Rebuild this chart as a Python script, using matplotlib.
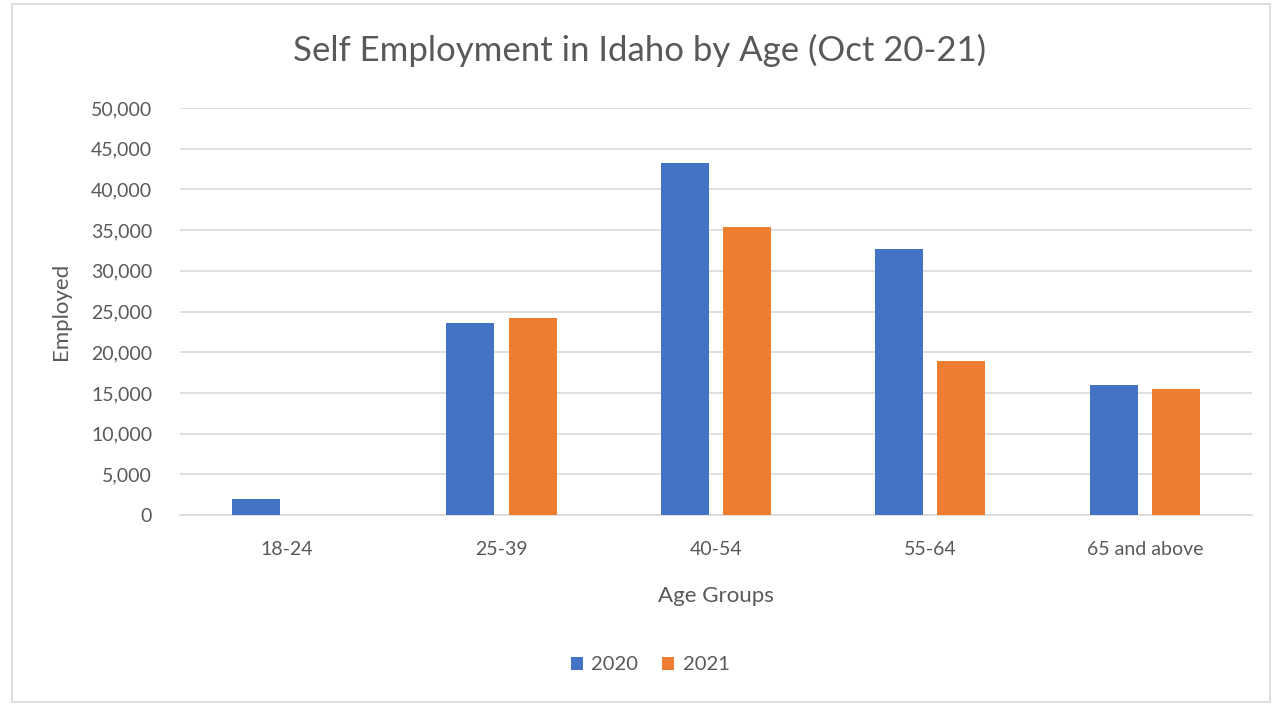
import matplotlib.pyplot as plt
import numpy as np
from matplotlib.patches import Rectangle
from matplotlib.ticker import FuncFormatter

# Data
age_groups = ["18-24", "25-39", "40-54", "55-64", "65 and above"]
employed_2020 = [2000, 23600, 43300, 32700, 16000]
employed_2021 = [0, 24200, 35400, 18900, 15500]

blue = "#4472C4"
orange = "#ED7D31"
text_grey = "#595959"

plt.rcParams["font.family"] = ["Lato", "DejaVu Sans"]

fig = plt.figure(figsize=(12.8, 7.05), dpi=100)
ax = fig.add_axes([0.1406, 0.2695, 0.8375, 0.5773])

# Chart border
fig.patches.append(Rectangle((0.009, 0.004), 0.983, 0.99, transform=fig.transFigure,
                             fill=False, edgecolor="#D9D9D9", linewidth=1.2))

x = np.arange(len(age_groups))
width = 0.224
offset = 0.145

ax.bar(x - offset, employed_2020, width, color=blue, label="2020", zorder=3)
ax.bar(x + offset, employed_2021, width, color=orange, label="2021", zorder=3)

ax.set_xlim(-0.5, len(age_groups) - 0.5)
ax.set_ylim(0, 50000)
ax.set_yticks(np.arange(0, 50001, 5000))
ax.yaxis.set_major_formatter(FuncFormatter(lambda v, p: "{:,.0f}".format(v)))
ax.set_xticks(x)
ax.set_xticklabels(age_groups)

ax.grid(axis="y", color="#D9D9D9", linewidth=1.2, zorder=0)
for side in ["top", "right", "left"]:
    ax.spines[side].set_visible(False)
ax.spines["bottom"].set_color("#D9D9D9")
ax.spines["bottom"].set_linewidth(1.2)
ax.tick_params(axis="both", length=0, labelsize=14, labelcolor=text_grey)
ax.tick_params(axis="y", pad=20)
ax.tick_params(axis="x", pad=19)

ax.set_xlabel("Age Groups", fontsize=16, color=text_grey, labelpad=20)
ax.set_ylabel("Employed", fontsize=16, color=text_grey, labelpad=14)

fig.suptitle("Self Employment in Idaho by Age (Oct 20-21)", fontsize=25,
             color=text_grey, y=0.952)

fig.legend(loc="center", bbox_to_anchor=(0.508, 0.057), ncol=2, frameon=False,
           fontsize=14.5, handlelength=0.6, handleheight=0.6, handletextpad=0.4,
           columnspacing=1.2, labelcolor=text_grey)

fig.savefig("out.png", dpi=100, facecolor="white")
